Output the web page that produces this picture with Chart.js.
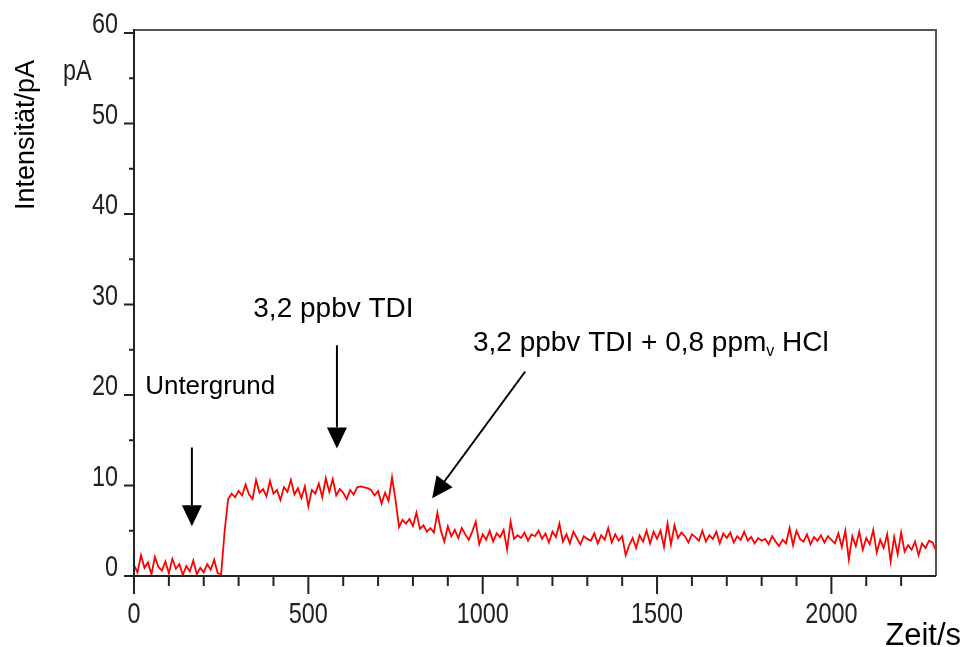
<!DOCTYPE html>
<html>
<head>
<meta charset="utf-8">
<title>Intensität TDI</title>
<script src="https://cdn.jsdelivr.net/npm/chart.js@4.4.1/dist/chart.umd.min.js"></script>
<style>
  html, body { margin: 0; padding: 0; background: #fff; }
  #wrap { width: 964px; height: 647px; }
</style>
</head>
<body>
<div id="wrap"><canvas id="signalChart" width="964" height="647"></canvas></div>
<script>
const sampleStep = 10;
const untergrund = [1.2, 0.4, 2.3, 0.9, 1.5, 0.2, 2.1, 1.0, 0.6, 1.6, 0.3, 1.9, 0.8, 1.3, 0.1, 1.1, 0.5, 1.7, 0.2, 0.9, 0.4, 1.3, 0.7, 1.8, 0.3, 0.2];
const tdi = [5.0, 8.5, 9.1, 8.7, 9.4, 8.9, 10.1, 9.0, 8.5, 10.6, 9.2, 9.6, 8.8, 10.5, 9.1, 9.5, 8.4, 9.8, 9.3, 10.6,
  9.0, 9.7, 8.6, 9.9, 7.7, 9.5, 9.1, 10.2, 8.7, 10.8, 9.3, 10.7, 8.9, 9.6, 9.2, 8.5, 9.5, 9.0, 9.8, 9.9,
  9.8, 9.7, 9.5, 8.9, 9.4, 8.0, 9.2, 8.3, 10.9, 8.4];
const tdiHclA = [5.4, 6.2, 5.8, 6.3, 5.5, 7.0, 5.2, 5.6, 4.9, 5.3, 4.8, 7.0, 5.0, 3.8, 5.5, 4.4, 5.1, 4.2, 5.3, 4.6,
  4.0, 4.9, 6.0, 3.5, 4.6];
const tdiHclB = [4.0, 5.0, 3.8, 4.7, 4.3, 5.1, 2.9, 6.0, 4.1, 4.5, 4.2, 4.8, 3.9, 4.6, 4.4, 5.0, 4.1, 4.7, 3.7, 4.9,
  4.3, 5.8, 3.8, 4.6, 3.6, 4.9, 4.2, 3.5, 4.4, 4.1, 3.9, 4.7, 3.6, 4.5, 4.0, 5.3, 3.7, 4.6, 3.9, 4.4,
  2.3, 3.4, 4.2, 3.1, 4.5, 3.8, 5.0, 3.6, 4.9, 4.1];
const tdiHclC = [5.0, 3.2, 5.8, 3.5, 5.6, 4.2, 4.8, 4.4, 3.7, 4.6, 4.3, 3.9, 5.0, 3.8, 4.5, 4.1, 4.9, 3.6, 4.7, 4.2,
  4.8, 3.7, 4.4, 4.0, 4.9, 3.9, 4.3, 3.6, 4.2, 3.9, 4.1, 3.5, 4.4, 3.8, 3.3, 4.0, 3.6, 5.3, 3.4, 5.0,
  4.1, 3.8, 4.6, 3.5, 4.3, 3.9, 4.5, 3.7, 4.4, 4.0];
const tdiHclD = [3.6, 4.7, 3.2, 5.0, 1.8, 4.4, 3.3, 4.9, 2.9, 4.2, 3.5, 5.1, 2.6, 4.0, 3.1, 4.6, 1.6, 4.3, 2.4, 4.8,
  2.7, 3.4, 2.9, 3.8, 2.3, 3.6, 3.1, 3.9, 3.7, 2.8];

const xMax = 2300;
const yMax = 60;
const xLabelTicks = [0, 500, 1000, 1500, 2000];
const yLabelTicks = [0, 10, 20, 30, 40, 50, 60];

// Beschriftungen im Diagramm (Datenkoordinaten)
const annotations = [
  { text: 'Untergrund', x: 32, y: 20.1, align: 'left', size: 26 },
  { text: '3,2 ppbv TDI', x: 572, y: 28.6, align: 'center', size: 28 }
];
const hclLabel = { x: 972, y: 24.9, size: 28 };
const arrows = [
  { x1: 166, y1: 14.2, x2: 166, y2: 5.5 },
  { x1: 582, y1: 25.5, x2: 582, y2: 14.1 },
  { x1: 1122, y1: 22.6, x2: 855, y2: 8.6 }
];

const intensity = [].concat(untergrund, tdi, tdiHclA, tdiHclB, tdiHclC, tdiHclD);
const points = intensity.map((v, i) => ({ x: i * sampleStep, y: v }));

const textFont = "'Liberation Sans', Arial, sans-serif";
const tickSize = 30;
const tickSqueeze = 0.78; // schmale Ziffern wie im Original

function drawArrow(ctx, ax, ay, bx, by) {
  const ang = Math.atan2(by - ay, bx - ax);
  const headLen = 21, headHalf = 10;
  const baseX = bx - headLen * Math.cos(ang), baseY = by - headLen * Math.sin(ang);
  ctx.beginPath();
  ctx.moveTo(ax, ay);
  ctx.lineTo(baseX, baseY);
  ctx.stroke();
  ctx.beginPath();
  ctx.moveTo(bx, by);
  ctx.lineTo(baseX + headHalf * Math.sin(ang), baseY - headHalf * Math.cos(ang));
  ctx.lineTo(baseX - headHalf * Math.sin(ang), baseY + headHalf * Math.cos(ang));
  ctx.closePath();
  ctx.fill();
}

function narrowText(ctx, text, px, py, align) {
  ctx.save();
  ctx.translate(px, py);
  ctx.scale(tickSqueeze, 1);
  ctx.textAlign = align;
  ctx.fillText(text, 0, 0);
  ctx.restore();
}

const overlay = {
  id: 'overlay',
  afterDraw(chart) {
    const { ctx, chartArea: a, scales: { x, y } } = chart;
    ctx.save();

    // Rahmen oben/rechts
    ctx.strokeStyle = '#555';
    ctx.lineWidth = 2;
    ctx.beginPath();
    ctx.moveTo(a.left, a.top - 3);
    ctx.lineTo(a.right + 1, a.top - 3);
    ctx.moveTo(a.right, a.top - 3);
    ctx.lineTo(a.right, a.bottom);
    ctx.stroke();

    // Achsen
    ctx.strokeStyle = '#222';
    ctx.beginPath();
    ctx.moveTo(a.left, a.top - 4);
    ctx.lineTo(a.left, a.bottom);
    ctx.lineTo(a.right, a.bottom);
    ctx.stroke();

    // Teilstriche und Zahlen
    ctx.fillStyle = '#222';
    ctx.font = tickSize + 'px ' + textFont;
    ctx.textBaseline = 'alphabetic';
    ctx.beginPath();
    x.ticks.forEach(t => {
      if (t.value >= xMax) return;
      const px = x.getPixelForValue(t.value);
      const major = xLabelTicks.includes(t.value);
      ctx.moveTo(px, a.bottom);
      ctx.lineTo(px, a.bottom + (major ? 18 : 10));
      if (major) narrowText(ctx, String(t.value), px, a.bottom + 47, 'center');
    });
    y.ticks.forEach(t => {
      const py = y.getPixelForValue(t.value);
      const major = yLabelTicks.includes(t.value);
      ctx.moveTo(a.left, py);
      ctx.lineTo(a.left - (major ? 10 : 5), py);
      if (major) narrowText(ctx, String(t.value), 118, py, 'right');
    });
    ctx.stroke();

    // Einheit an der y-Achse
    narrowText(ctx, 'pA', 63, 80, 'left');

    // Achsentitel
    ctx.fillStyle = '#000';
    ctx.font = '27px ' + textFont;
    ctx.save();
    ctx.translate(34, 135);
    ctx.rotate(-Math.PI / 2);
    ctx.textAlign = 'center';
    ctx.fillText('Intensität/pA', 0, 0);
    ctx.restore();
    ctx.font = '31px ' + textFont;
    ctx.textAlign = 'right';
    ctx.fillText('Zeit/s', 961, 645);

    // Beschriftungen
    annotations.forEach(an => {
      ctx.font = an.size + 'px ' + textFont;
      ctx.textAlign = an.align;
      ctx.fillText(an.text, x.getPixelForValue(an.x), y.getPixelForValue(an.y));
    });
    let hx = x.getPixelForValue(hclLabel.x);
    const hy = y.getPixelForValue(hclLabel.y);
    ctx.textAlign = 'left';
    ctx.font = hclLabel.size + 'px ' + textFont;
    const part1 = '3,2 ppbv TDI + 0,8 ppm';
    ctx.fillText(part1, hx, hy);
    hx += ctx.measureText(part1).width;
    ctx.font = '16px ' + textFont;
    ctx.fillText('v', hx, hy + 5);
    hx += ctx.measureText('v').width;
    ctx.font = hclLabel.size + 'px ' + textFont;
    ctx.fillText(' HCl', hx, hy);

    // Pfeile
    ctx.strokeStyle = '#000';
    ctx.fillStyle = '#000';
    ctx.lineWidth = 2;
    arrows.forEach(ar => {
      drawArrow(ctx,
        x.getPixelForValue(ar.x1), y.getPixelForValue(ar.y1),
        x.getPixelForValue(ar.x2), y.getPixelForValue(ar.y2));
    });

    ctx.restore();
  }
};

new Chart(document.getElementById('signalChart'), {
  type: 'line',
  data: {
    datasets: [{
      data: points,
      borderColor: '#ff0000',
      borderWidth: 1.8,
      pointRadius: 0,
      tension: 0,
      fill: false
    }]
  },
  options: {
    responsive: false,
    animation: false,
    layout: { padding: { left: 0, right: 28, top: 33, bottom: 0 } },
    plugins: {
      legend: { display: false },
      tooltip: { enabled: false }
    },
    scales: {
      x: {
        type: 'linear',
        min: 0,
        max: xMax,
        afterFit: (scale) => { scale.height = 71; },
        grid: { display: false, drawTicks: false },
        border: { display: false },
        ticks: { stepSize: 100, autoSkip: false, display: false }
      },
      y: {
        min: 0,
        max: yMax,
        afterFit: (scale) => { scale.width = 134; },
        grid: { display: false, drawTicks: false },
        border: { display: false },
        ticks: { stepSize: 5, autoSkip: false, display: false }
      }
    }
  },
  plugins: [overlay]
});
</script>
</body>
</html>
